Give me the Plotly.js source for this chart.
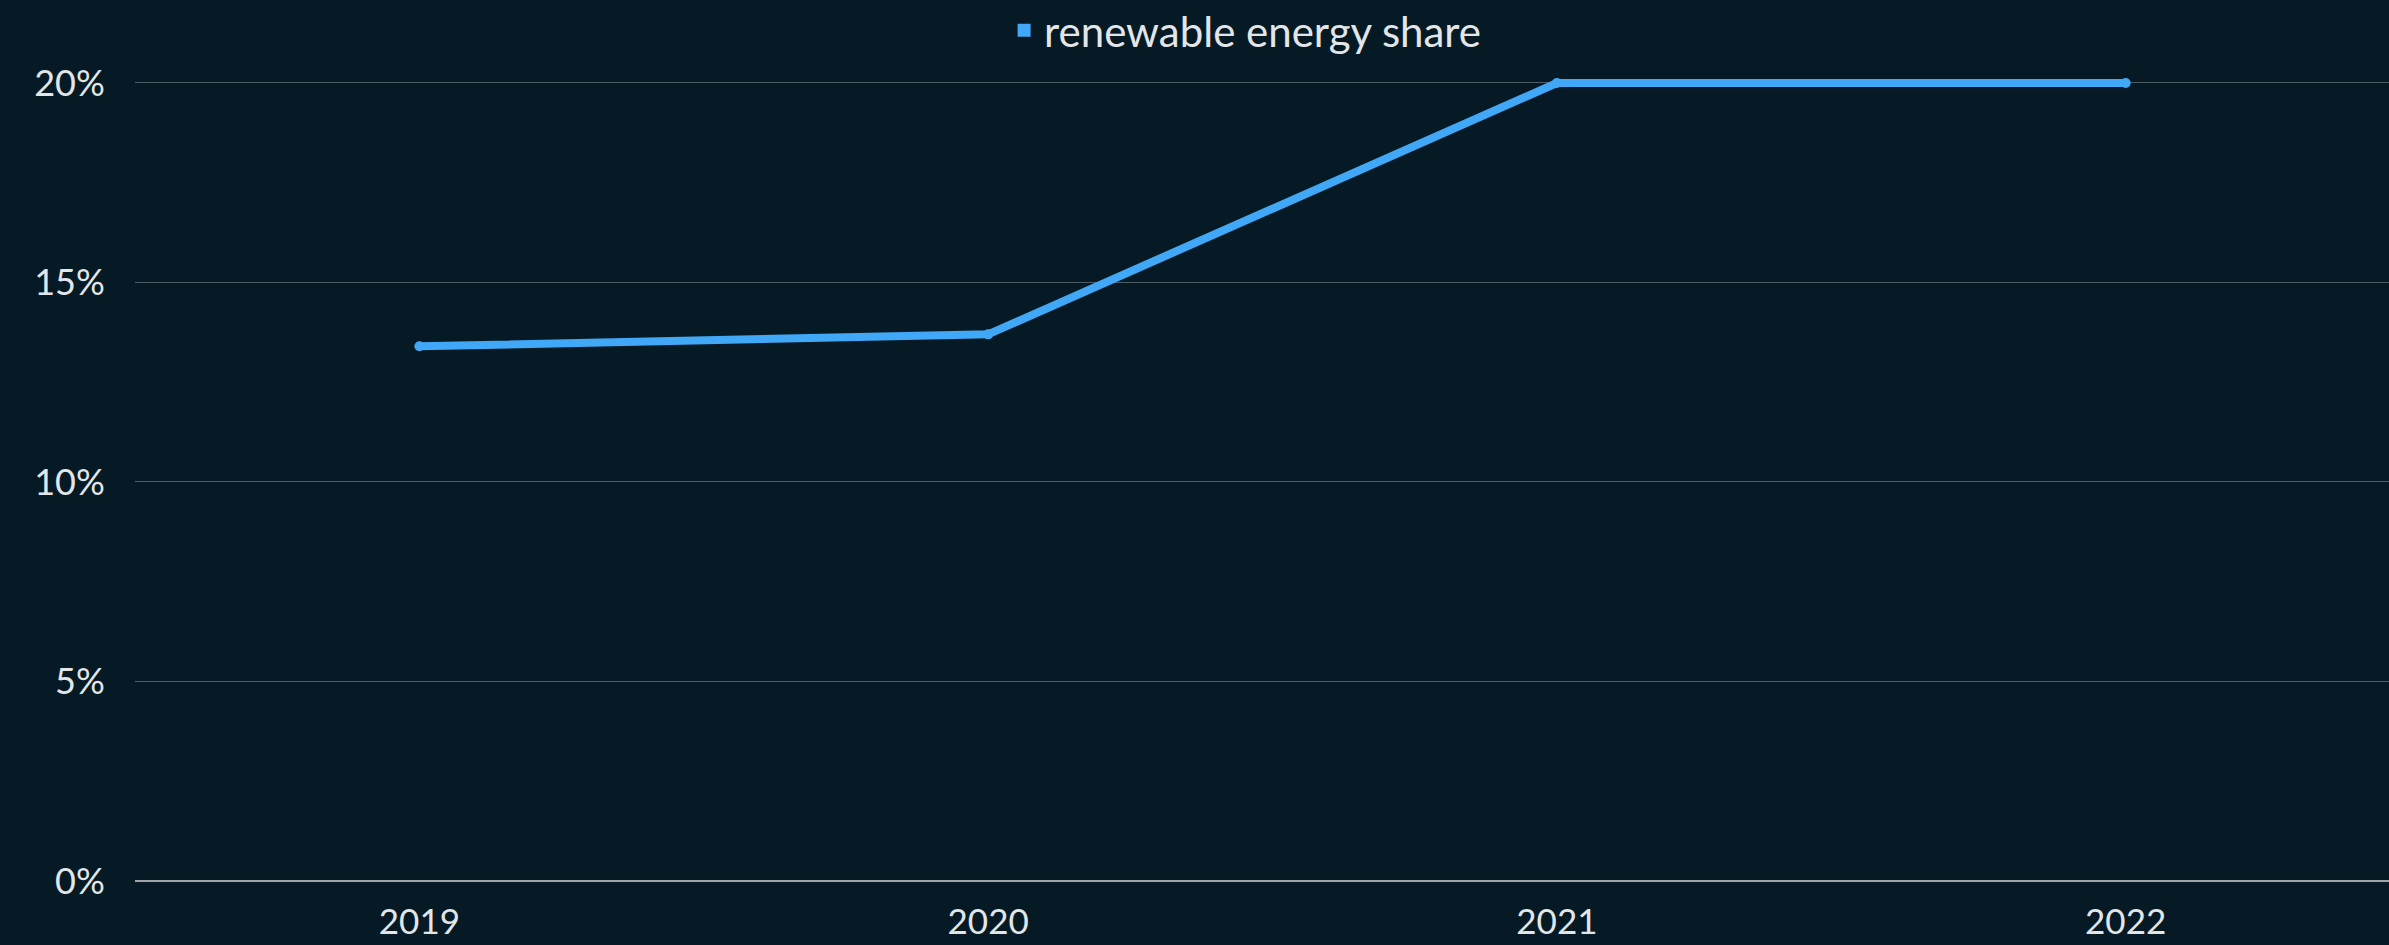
<!DOCTYPE html>
<html>
<head>
<meta charset="utf-8">
<script src="https://cdn.plot.ly/plotly-3.0.1.min.js"></script>
<style>
html,body{margin:0;padding:0;background:#061a26;}
#chart{width:2389px;height:945px;}
</style>
</head>
<body>
<div id="chart"></div>
<script>
const years = ["2019", "2020", "2021", "2022"];
const renewableShare = [13.4, 13.7, 20, 20];
const seriesName = "renewable energy share";
const yTickVals = [0, 5, 10, 15, 20];
const yTickText = ["0%", "5%", "10%", "15%", "20%"];

const lineColor = "#40a8f6";
const textColor = "#e3e6e8";
const fontFamily = "Lato, 'Open Sans', sans-serif";

const traces = [
  {
    x: years,
    y: renewableShare,
    type: "scatter",
    mode: "lines+markers",
    line: {color: lineColor, width: 8},
    marker: {color: lineColor, size: 10},
    showlegend: false,
    hoverinfo: "x+y",
    name: seriesName
  },
  {
    x: [null],
    y: [null],
    type: "scatter",
    mode: "markers",
    marker: {color: lineColor, size: 13, symbol: "square"},
    name: seriesName,
    showlegend: true
  }
];

const layout = {
  width: 2389,
  height: 945,
  paper_bgcolor: "#061a26",
  plot_bgcolor: "#061a26",
  font: {family: fontFamily, color: textColor, size: 35},
  margin: {l: 135, r: 0, t: 71, b: 64, pad: 0, autoexpand: false},
  showlegend: true,
  legend: {
    orientation: "h",
    x: 0.4925,
    xanchor: "center",
    y: 1.05,
    yanchor: "middle",
    font: {family: fontFamily, color: textColor, size: 42},
    itemwidth: 30,
    bgcolor: "rgba(0,0,0,0)"
  },
  xaxis: {
    type: "category",
    range: [-0.5, 3.463],
    showgrid: false,
    zeroline: false,
    showline: false,
    ticks: "outside",
    ticklen: 10,
    tickcolor: "rgba(0,0,0,0)",
    tickfont: {family: fontFamily, color: textColor, size: 35},
    fixedrange: true,
    automargin: false
  },
  yaxis: {
    range: [0, 20.3],
    tickvals: yTickVals,
    ticktext: yTickText,
    showgrid: true,
    gridcolor: "#4e5c66",
    gridwidth: 1,
    zeroline: true,
    zerolinecolor: "#9ea4a8",
    zerolinewidth: 2,
    showline: false,
    ticks: "outside",
    ticklen: 22,
    tickcolor: "rgba(0,0,0,0)",
    tickfont: {family: fontFamily, color: textColor, size: 36},
    fixedrange: true,
    automargin: false
  }
};

Plotly.newPlot("chart", traces, layout, {displayModeBar: false, staticPlot: true});
</script>
</body>
</html>
